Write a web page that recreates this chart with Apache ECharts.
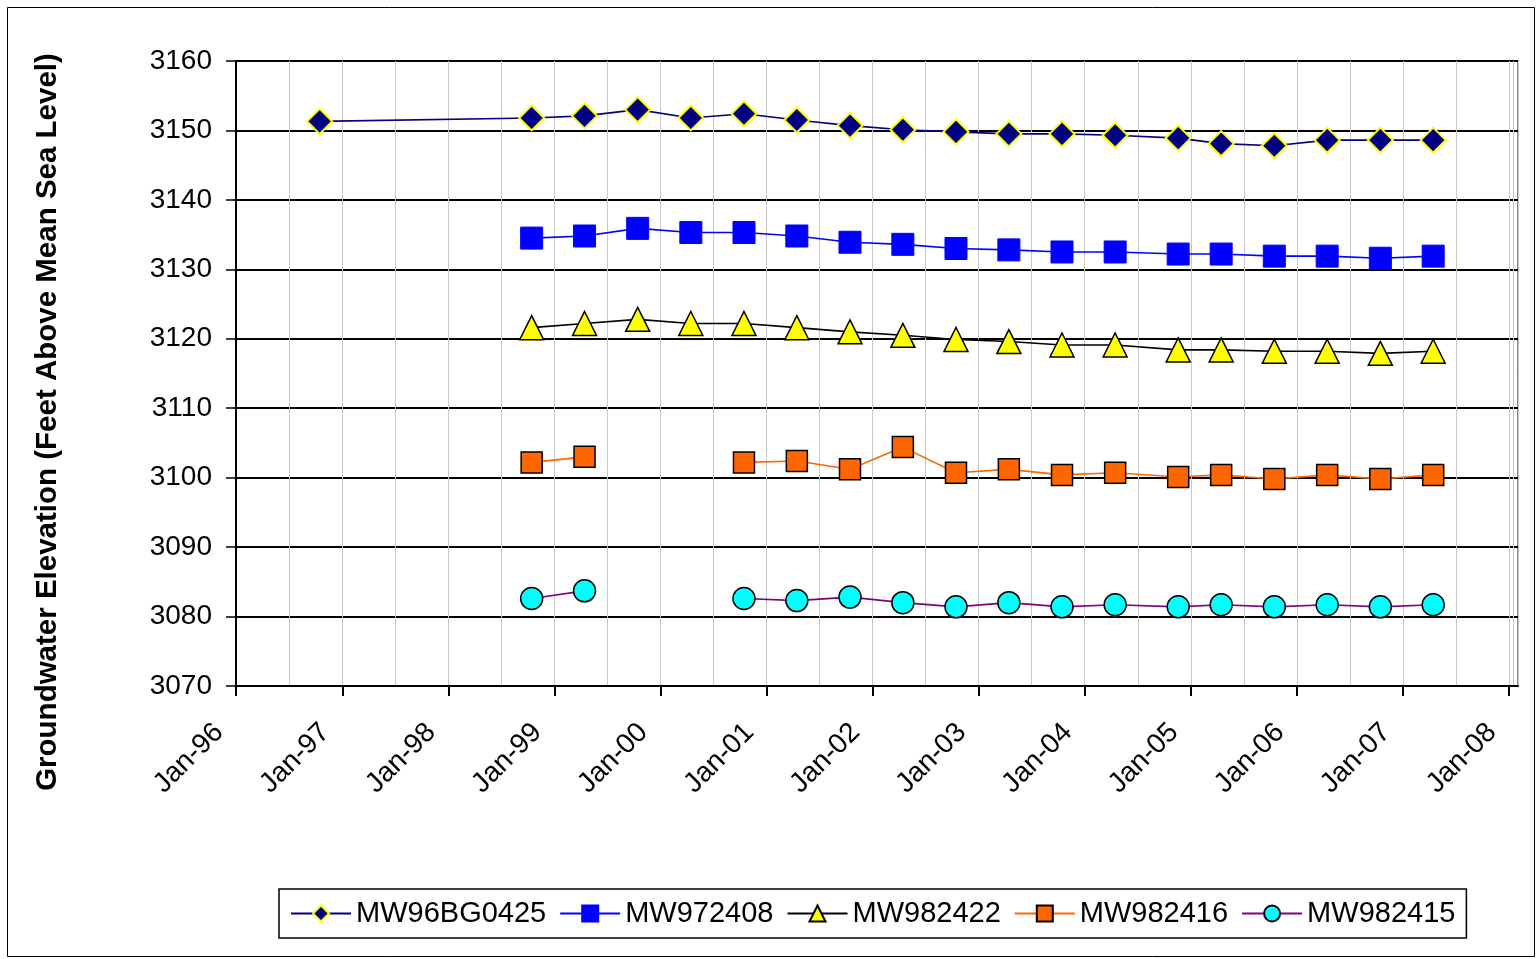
<!DOCTYPE html>
<html>
<head>
<meta charset="utf-8">
<script src="https://cdn.jsdelivr.net/npm/echarts@6/dist/echarts.min.js"></script>
<style>
html,body{margin:0;padding:0;background:#fff;}
#chart{width:1537px;height:959px;}
</style>
</head>
<body>
<div id="chart"></div>
<script>
// ---- data ----
var dates = ['1996-10-15','1998-10-15','1999-04-15','1999-10-15','2000-04-15','2000-10-15','2001-04-15','2001-10-15','2002-04-15','2002-10-15','2003-04-15','2003-10-15','2004-04-15','2004-11-18','2005-04-15','2005-10-15','2006-04-15','2006-10-15','2007-04-15'];
var seriesNames = ['MW96BG0425','MW972408','MW982422','MW982416','MW982415'];
var mw96bg0425 = [3151.3,3151.8,3152.1,3153.0,3151.8,3152.4,3151.5,3150.7,3150.1,3149.8,3149.5,3149.5,3149.3,3148.9,3148.1,3147.8,3148.6,3148.6,3148.6];
var mw972408 = [null,3134.5,3134.8,3135.9,3135.3,3135.3,3134.8,3133.9,3133.6,3133.0,3132.8,3132.5,3132.5,3132.2,3132.2,3131.9,3131.9,3131.6,3131.9];
var mw982422 = [null,3121.6,3122.2,3122.8,3122.2,3122.2,3121.6,3121.0,3120.5,3119.9,3119.6,3119.1,3119.1,3118.4,3118.4,3118.2,3118.2,3117.9,3118.2];
var mw982416 = [null,3102.2,3103.0,null,null,3102.2,3102.4,3101.2,3104.4,3100.7,3101.2,3100.4,3100.7,3100.1,3100.4,3099.8,3100.4,3099.8,3100.4];
var mw982415 = [null,3082.6,3083.7,null,null,3082.6,3082.3,3082.8,3082.0,3081.4,3082.0,3081.4,3081.7,3081.4,3081.7,3081.4,3081.7,3081.4,3081.7];
var yAxisTitle = 'Groundwater Elevation (Feet Above Mean Sea Level)';
var xMin = '1996-01-01', xMax = '2008-02-01';
var yMin = 3070, yMax = 3160, yStep = 10;

function pairs(vals){ return dates.map(function(d,i){ return [d, vals[i]]; }); }

var FONT = '"Liberation Sans", Arial, sans-serif';
var chart = echarts.init(document.getElementById('chart'), null, {renderer:'canvas'});
var YEAR = 365*24*3600*1000;

function mk(name, vals, lineColor, symbol, size, fill, border, bw){
  return {
    name: name, type: 'line', data: pairs(vals), connectNulls: false,
    symbol: symbol, symbolSize: size, showAllSymbol: true,
    lineStyle: {color: lineColor, width: 1.6},
    itemStyle: {color: fill, borderColor: border, borderWidth: bw},
    emphasis: {disabled: true}, animation: false
  };
}

chart.setOption({
  backgroundColor: '#fff',
  animation: false,
  graphic: [{
    type: 'rect', left: 5, top: 5, shape: {width: 1527, height: 949},
    style: {fill: 'none', stroke: '#000', lineWidth: 1}, silent: true, z: -1
  }, {
    type: 'text', x: 48, y: 422, rotation: Math.PI / 2, silent: true,
    style: {text: yAxisTitle, font: 'bold 29.5px ' + FONT, fill: '#000', textAlign: 'center', textVerticalAlign: 'middle'}
  }],
  grid: {left: 236, top: 61, right: 19, bottom: 273, show: true, borderColor: '#888', borderWidth: 2, backgroundColor: '#fff'},
  legend: {
    left: 279, top: 889, orient: 'horizontal',
    padding: [10, 11, 10, 11], itemGap: 13, itemWidth: 60, itemHeight: 20,
    borderColor: '#000', borderWidth: 1.5,
    textStyle: {fontFamily: FONT, fontSize: 29, color: '#000'},
    data: seriesNames
  },
  xAxis: {
    type: 'time', min: xMin, max: xMax,
    minInterval: YEAR, maxInterval: YEAR + 24*3600*1000*2, splitNumber: 12,
    axisLine: {show: true, lineStyle: {color: '#000', width: 2}},
    axisTick: {show: true, length: 10, inside: false, lineStyle: {color: '#000', width: 2}},
    axisLabel: {rotate: 45, fontFamily: FONT, fontSize: 28, color: '#000', margin: 25, padding: [0, 24, 0, 0], formatter: '{MMM}-{yy}', hideOverlap: false, showMinLabel: true, showMaxLabel: false},
    splitLine: {show: true, lineStyle: {color: '#c8c8c8', width: 1}},
    minorTick: {show: false, splitNumber: 2},
    minorSplitLine: {show: true, lineStyle: {color: '#c8c8c8', width: 1}}
  },
  yAxis: {
    type: 'value', min: yMin, max: yMax, interval: yStep,
    axisLine: {show: true, lineStyle: {color: '#000', width: 2}},
    axisTick: {show: true, length: 10, inside: false, lineStyle: {color: '#000', width: 1.5}},
    axisLabel: {fontFamily: FONT, fontSize: 28, color: '#000', margin: 24, formatter: function(v){ return String(v); }},
    splitLine: {show: true, lineStyle: {color: '#000', width: 2}}
  },
  series: [
    mk(seriesNames[0], mw96bg0425, '#000080', 'diamond', 25, '#000080', '#FFFF00', 2),
    mk(seriesNames[1], mw972408, '#0000FF', 'rect', 22, '#0000FF', '#0000FF', 1),
    mk(seriesNames[2], mw982422, '#000000', 'triangle', 24, '#FFFF00', '#000000', 1.5),
    mk(seriesNames[3], mw982416, '#FF6600', 'rect', 21, '#FF6600', '#000000', 1.5),
    mk(seriesNames[4], mw982415, '#800080', 'circle', 22, '#00FFFF', '#000000', 1.5)
  ]
});
</script>
</body>
</html>
